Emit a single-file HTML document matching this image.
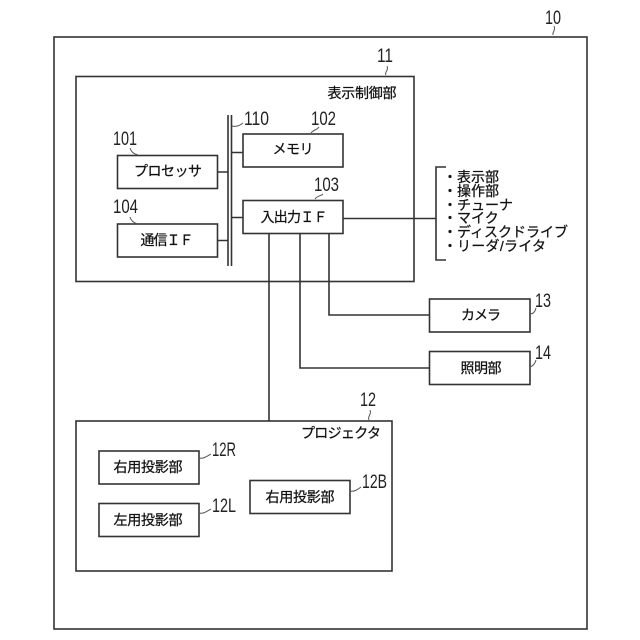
<!DOCTYPE html>
<html><head><meta charset="utf-8">
<style>
html,body{margin:0;padding:0;background:#fff}
svg{display:block}
text{font-family:"Liberation Sans","Noto Sans CJK JP",sans-serif;fill:#111}
.j,.l{font-size:14px;stroke:#111;stroke-width:.25}
.n{font-size:19.500px;font-family:"Liberation Sans",sans-serif;fill:#222}
</style></head><body>
<svg width="640" height="640" viewBox="0 0 640 640" xmlns="http://www.w3.org/2000/svg">
<rect width="640" height="640" fill="#fff"/>
<g fill="none" stroke="#333" stroke-width="1.6">
<rect x="54" y="37" width="533" height="592"/>
<rect x="76" y="76.500" width="338" height="205"/>
<rect x="117.500" y="155.500" width="100" height="33"/>
<rect x="117.500" y="224" width="100" height="33"/>
<rect x="243" y="134" width="100" height="33"/>
<rect x="243" y="200.500" width="100" height="33"/>
<rect x="429.500" y="299" width="100.500" height="33"/>
<rect x="429.500" y="351.500" width="100.500" height="33"/>
<rect x="76" y="421" width="316" height="150"/>
<rect x="99" y="451" width="100" height="33"/>
<rect x="99" y="503.500" width="100" height="33"/>
<rect x="250" y="480.500" width="100" height="33"/>
<path d="M228 115V266M231.500 115V266"/>
<path d="M217.500 172H228M217.500 240.500H228M231.500 152.500H243M231.500 217.500H243"/>
<path d="M343 218.500H436M269 233.500V421M300 233.500V368H429.500M329 233.500V315H429.500"/>
<path d="M446 167H436V260H446"/>
</g>
<g fill="none" stroke="#555" stroke-width="1">
<path d="M553 35C552 32 556 31 554 26"/>
<path d="M386 75C384 72 389 71 387 66"/>
<path d="M369 420C367 416 372 415 370 410"/>
<path d="M232 126C236 127 239 126 243 123"/>
<path d="M130 148C131 152 134 154 138 155"/>
<path d="M130 217C131 221 134 223 138 224"/>
<path d="M311 133C313 130 317 130 319 127"/>
<path d="M315 199C317 196 321 196 323 194"/>
<path d="M530 314C533 314 535 312 536 308"/>
<path d="M530 367C533 366 535 364 536 360"/>
<path d="M199 458C203 459 206 457 211 454"/>
<path d="M199 513C203 514 206 512 211 509"/>
<path d="M350 491C354 492 357 490 361 487"/>
</g>
<g>
<text class="n" x="545" y="24" textLength="16" lengthAdjust="spacingAndGlyphs">10</text>
<text class="n" x="377" y="62" textLength="16" lengthAdjust="spacingAndGlyphs">11</text>
<text class="n" x="360" y="406" textLength="16" lengthAdjust="spacingAndGlyphs">12</text>
<text class="n" x="244" y="125" textLength="25" lengthAdjust="spacingAndGlyphs">110</text>
<text class="n" x="311" y="125" textLength="25" lengthAdjust="spacingAndGlyphs">102</text>
<text class="n" x="113" y="145" textLength="24" lengthAdjust="spacingAndGlyphs">101</text>
<text class="n" x="314" y="191" textLength="25" lengthAdjust="spacingAndGlyphs">103</text>
<text class="n" x="113" y="213" textLength="25" lengthAdjust="spacingAndGlyphs">104</text>
<text class="n" x="535" y="307" textLength="16" lengthAdjust="spacingAndGlyphs">13</text>
<text class="n" x="535" y="359" textLength="16" lengthAdjust="spacingAndGlyphs">14</text>
<text class="n" x="212" y="456" textLength="24" lengthAdjust="spacingAndGlyphs">12R</text>
<text class="n" x="212" y="512" textLength="24" lengthAdjust="spacingAndGlyphs">12L</text>
<text class="n" x="362" y="488" textLength="25" lengthAdjust="spacingAndGlyphs">12B</text>
</g>
<g text-anchor="middle">
<text class="j" x="362" y="98" textLength="69">表示制御部</text>
<text class="j" x="168" y="176" textLength="68">プロセッサ</text>
<text class="j" x="167" y="245" textLength="53">通信ＩＦ</text>
<text class="j" x="293" y="154" textLength="41">メモリ</text>
<text class="j" x="294" y="222" textLength="67">入出力ＩＦ</text>
<text class="j" x="481" y="320" textLength="40">カメラ</text>
<text class="j" x="481" y="373" textLength="41">照明部</text>
<text class="j" x="341" y="438" textLength="80">プロジェクタ</text>
<text class="j" x="148" y="472" textLength="69">右用投影部</text>
<text class="j" x="148" y="525" textLength="69">左用投影部</text>
<text class="j" x="300" y="502" textLength="69">右用投影部</text>
</g>
<g>
<text class="l" x="443" y="182">・</text><text class="l" x="457" y="182">表示部</text>
<text class="l" x="443" y="196">・</text><text class="l" x="457" y="196">操作部</text>
<text class="l" x="443" y="210">・</text><text class="l" x="457" y="210">チューナ</text>
<text class="l" x="443" y="223">・</text><text class="l" x="457" y="223">マイク</text>
<text class="l" x="443" y="237">・</text><text class="l" x="457" y="237" textLength="111">ディスクドライブ</text>
<text class="l" x="443" y="251">・</text><text class="l" x="457" y="251" textLength="89">リーダ/ライタ</text>
</g>
</svg>
</body></html>
